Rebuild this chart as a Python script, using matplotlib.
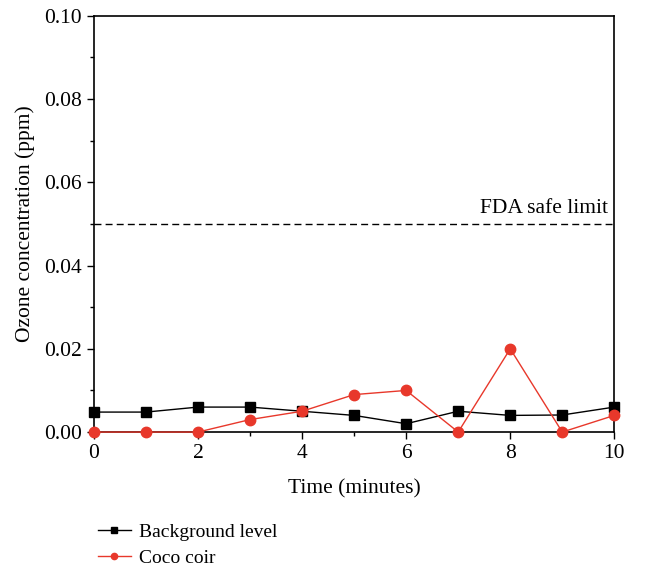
import matplotlib
matplotlib.use("Agg")
import matplotlib.pyplot as plt
from matplotlib.ticker import MultipleLocator

plt.rcParams['font.family'] = ['Liberation Serif', 'DejaVu Serif']
plt.rcParams['font.size'] = 15.5

time = [0, 1, 2, 3, 4, 5, 6, 7, 8, 9, 10]
background = [0.0048, 0.0048, 0.006, 0.006, 0.005, 0.004, 0.002, 0.005, 0.004, 0.0041, 0.006]
coco = [0.0, 0.0, 0.0, 0.003, 0.005, 0.009, 0.010, 0.0, 0.020, 0.0, 0.004]
fda_limit = 0.05

fig = plt.figure(figsize=(6.48, 5.67), dpi=100)
ax = fig.add_axes([0.145, 0.238, 0.803, 0.734])

ax.plot(time, background, '-', color='black', marker='s', markersize=7.5, lw=1,
        label='Background level', clip_on=False, zorder=3)
ax.plot(time, coco, '-', color='#e8382b', marker='o', markersize=7.5, lw=1,
        label='Coco coir', clip_on=False, zorder=4)
ax.axhline(fda_limit, color='black', ls=(0, (5, 3)), lw=1)
ax.text(9.87, fda_limit + 0.0015, 'FDA safe limit', ha='right', va='bottom', fontsize=15.5)

ax.set_xlim(0, 10)
ax.set_ylim(0, 0.1)
ax.xaxis.set_major_locator(MultipleLocator(2))
ax.xaxis.set_minor_locator(MultipleLocator(1))
ax.yaxis.set_major_locator(MultipleLocator(0.02))
ax.yaxis.set_minor_locator(MultipleLocator(0.01))
ax.yaxis.set_major_formatter(plt.FuncFormatter(lambda v, p: f"{v:.2f}"))
ax.tick_params(which='major', direction='out', length=5, width=1, labelsize=15.5)
ax.tick_params(which='minor', direction='out', length=3, width=1)
for s in ax.spines.values():
    s.set_linewidth(1.2)

ax.set_xlabel('Time (minutes)', labelpad=12)
ax.set_ylabel('Ozone concentration (ppm)', labelpad=7)

fig.legend(loc='upper left', bbox_to_anchor=(0.124, 0.108), frameon=False, fontsize=14,
           handlelength=1.7, handletextpad=0.4, labelspacing=0.45, markerscale=0.6)

fig.savefig('out.png', dpi=100)
